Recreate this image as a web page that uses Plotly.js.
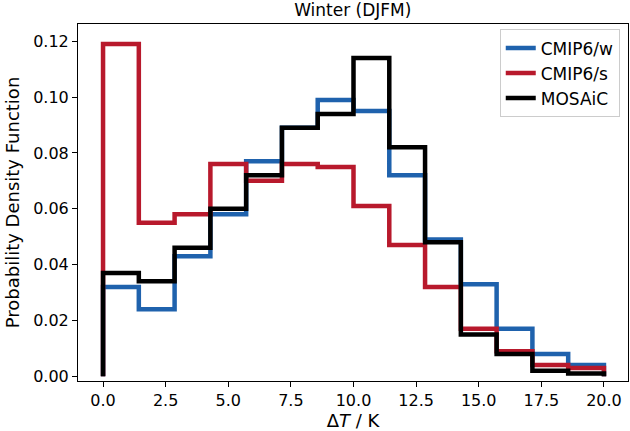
<html><head><script src="https://cdn.plot.ly/plotly-3.0.1.min.js"></script></head>
<body style="margin:0"><div id="plot" style="width:630px;height:431px"></div>
<script>
const nBins = 14, xMax = 20;
const edges = Array.from({length: nBins + 1}, (_, i) => i * xMax / nBins);
const cmipW = [0.032, 0.024, 0.043, 0.058, 0.077, 0.089, 0.099, 0.095, 0.072, 0.049, 0.033, 0.017, 0.008, 0.004];
const cmipS = [0.119, 0.055, 0.058, 0.076, 0.070, 0.076, 0.075, 0.061, 0.047, 0.032, 0.017, 0.009, 0.004, 0.003];
const mosaic = [0.037, 0.034, 0.046, 0.060, 0.072, 0.089, 0.094, 0.114, 0.082, 0.048, 0.015, 0.008, 0.002, 0.001];

function stepTrace(vals, name, color) {
  return {
    x: [0, ...edges.slice(0, nBins), xMax],
    y: [0, ...vals, 0],
    mode: 'lines', line: { shape: 'hv', color: color, width: 4.5 }, name: name
  };
}
const traces = [
  stepTrace(cmipW, 'CMIP6/w', '#1f62ad'),
  stepTrace(cmipS, 'CMIP6/s', '#b8192c'),
  stepTrace(mosaic, 'MOSAiC', '#000000')
];
const axisCommon = { showgrid: false, zeroline: false, showline: true, mirror: true, linecolor: '#000', linewidth: 1,
  ticks: 'outside', ticklen: 5, tickcolor: '#000', tickfont: { size: 16 } };
Plotly.newPlot('plot', traces, {
  width: 630, height: 431,
  margin: { l: 78, r: 2, t: 24, b: 50 },
  font: { family: 'DejaVu Sans', color: '#000', size: 16 },
  paper_bgcolor: '#fff', plot_bgcolor: '#fff',
  title: { text: 'Winter (DJFM)', font: { size: 17 }, x: 0.56, xanchor: 'center', y: 0.99, yanchor: 'top' },
  xaxis: Object.assign({}, axisCommon, { range: [-1.0, 20.96], tickvals: [0, 2.5, 5, 7.5, 10, 12.5, 15, 17.5, 20],
    ticktext: ['0.0', '2.5', '5.0', '7.5', '10.0', '12.5', '15.0', '17.5', '20.0'],
    title: { text: 'Δ<i>T</i> / K', font: { size: 18 }, standoff: 7 } }),
  yaxis: Object.assign({}, axisCommon, { range: [-0.0017, 0.1262], tickvals: [0, 0.02, 0.04, 0.06, 0.08, 0.1, 0.12],
    tickformat: '.2f', title: { text: 'Probability Density Function', font: { size: 18 }, standoff: 8 } }),
  legend: { x: 0.985, y: 0.985, xanchor: 'right', yanchor: 'top', bordercolor: '#ccc', borderwidth: 1,
    bgcolor: 'rgba(255,255,255,0.8)', font: { size: 17 } },
  showlegend: true
}, { displayModeBar: false });
</script></body></html>
